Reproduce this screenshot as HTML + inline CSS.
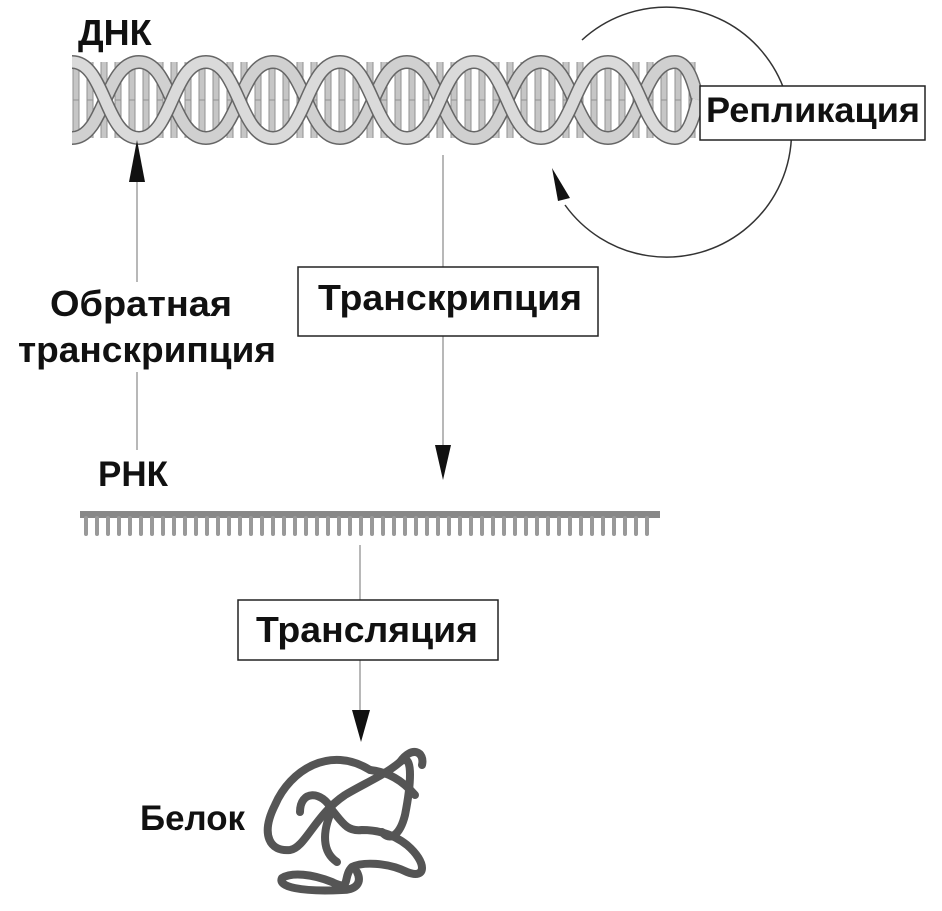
<!DOCTYPE html>
<html><head><meta charset="utf-8"><style>
body{margin:0;background:#fff;}
svg text{font-family:"Liberation Sans",sans-serif;font-weight:bold;fill:#111;}
</style></head><body>
<svg width="942" height="906" viewBox="0 0 942 906" xmlns="http://www.w3.org/2000/svg">
<defs>
<pattern id="rungs" x="0" y="0" width="14" height="100" patternUnits="userSpaceOnUse">
<rect x="3" y="0" width="6" height="100" fill="#b8b8b8" stroke="#777" stroke-width="1"/>
</pattern>
</defs>
<rect x="72" y="62" width="626" height="76" fill="url(#rungs)" opacity="0.8"/>
<g fill="none" stroke-linecap="butt">
<path d="M72,138 C105,138 105,62 139,62 C172,62 172,138 206,138 C239,138 239,62 273,62 C306,62 306,138 340,138 C373,138 373,62 407,62 C440,62 440,138 474,138 C507,138 507,62 541,62 C574,62 574,138 608,138 C641,138 641,62 675,62 C690,62 695,90 698,100" stroke="#666" stroke-width="14"/>
<path d="M72,138 C105,138 105,62 139,62 C172,62 172,138 206,138 C239,138 239,62 273,62 C306,62 306,138 340,138 C373,138 373,62 407,62 C440,62 440,138 474,138 C507,138 507,62 541,62 C574,62 574,138 608,138 C641,138 641,62 675,62 C690,62 695,90 698,100" stroke="#d0d0d0" stroke-width="11"/>
<path d="M72,62 C105,62 105,138 139,138 C172,138 172,62 206,62 C239,62 239,138 273,138 C306,138 306,62 340,62 C373,62 373,138 407,138 C440,138 440,62 474,62 C507,62 507,138 541,138 C574,138 574,62 608,62 C641,62 641,138 675,138 C690,138 695,110 698,100" stroke="#666" stroke-width="14"/>
<path d="M72,62 C105,62 105,138 139,138 C172,138 172,62 206,62 C239,62 239,138 273,138 C306,138 306,62 340,62 C373,62 373,138 407,138 C440,138 440,62 474,62 C507,62 507,138 541,138 C574,138 574,62 608,62 C641,62 641,138 675,138 C690,138 695,110 698,100" stroke="#dadada" stroke-width="11"/>
</g>
<text x="78" y="45" font-size="36">ДНК</text>
<path d="M582,40 A125,125 0 1 1 565,205" fill="none" stroke="#333" stroke-width="1.5"/>
<polygon points="552,168 570,198 558,201" fill="#111"/>
<rect x="700" y="86" width="225" height="54" fill="#fff" stroke="#222" stroke-width="1.5"/>
<text x="813" y="122" font-size="35" text-anchor="middle" textLength="214" lengthAdjust="spacingAndGlyphs">Репликация</text>
<line x1="137" y1="170" x2="137" y2="450" stroke="#888" stroke-width="1.2"/>
<polygon points="137,140 129,182 145,182" fill="#111"/>
<rect x="15" y="282" width="265" height="90" fill="#fff"/>
<text x="141" y="316" font-size="36" text-anchor="middle" textLength="182" lengthAdjust="spacingAndGlyphs">Обратная</text>
<text x="147" y="362" font-size="36" text-anchor="middle" textLength="258" lengthAdjust="spacingAndGlyphs">транскрипция</text>
<line x1="443" y1="155" x2="443" y2="450" stroke="#888" stroke-width="1.2"/>
<polygon points="443,480 435,445 451,445" fill="#111"/>
<rect x="298" y="267" width="300" height="69" fill="#fff" stroke="#222" stroke-width="1.5"/>
<text x="450" y="310" font-size="36" text-anchor="middle" textLength="264" lengthAdjust="spacingAndGlyphs">Транскрипция</text>
<text x="98" y="486" font-size="35">РНК</text>
<rect x="80" y="511" width="580" height="7" fill="#888"/>
<g stroke="#999" stroke-width="4" stroke-linecap="round">
<path d="M86,518v16 M97,518v16 M108,518v16 M119,518v16 M130,518v16 M141,518v16 M152,518v16 M163,518v16 M174,518v16 M185,518v16 M196,518v16 M207,518v16 M218,518v16 M229,518v16 M240,518v16 M251,518v16 M262,518v16 M273,518v16 M284,518v16 M295,518v16 M306,518v16 M317,518v16 M328,518v16 M339,518v16 M350,518v16 M361,518v16 M372,518v16 M383,518v16 M394,518v16 M405,518v16 M416,518v16 M427,518v16 M438,518v16 M449,518v16 M460,518v16 M471,518v16 M482,518v16 M493,518v16 M504,518v16 M515,518v16 M526,518v16 M537,518v16 M548,518v16 M559,518v16 M570,518v16 M581,518v16 M592,518v16 M603,518v16 M614,518v16 M625,518v16 M636,518v16 M647,518v16"/>
</g>
<line x1="360" y1="545" x2="360" y2="712" stroke="#888" stroke-width="1.2"/>
<polygon points="361,742 352,710 370,710" fill="#111"/>
<rect x="238" y="600" width="260" height="60" fill="#fff" stroke="#222" stroke-width="1.5"/>
<text x="367" y="642" font-size="36" text-anchor="middle" textLength="222" lengthAdjust="spacingAndGlyphs">Трансляция</text>
<text x="140" y="830" font-size="35" textLength="105" lengthAdjust="spacingAndGlyphs">Белок</text>
<g fill="none" stroke="#555" stroke-width="8" stroke-linecap="round" stroke-linejoin="round">
<path d="M370,770 C330,745 290,770 275,805 C260,835 270,852 290,850 C305,848 315,815 345,795 C365,783 385,775 400,762 C415,750 410,790 405,815 C400,835 390,842 382,832"/>
<path d="M400,762 C412,745 425,752 422,765 M370,770 C388,772 402,780 415,795"/>
<path d="M300,812 C300,790 322,790 332,810 C342,822 347,832 362,830 C382,830 397,837 407,845 C427,862 427,880 407,872 C387,862 362,862 352,867 C342,877 352,892 332,882 C312,874 292,872 282,878 C277,887 302,892 342,890 C357,890 362,882 357,872"/>
<path d="M332,810 C322,832 322,852 337,862"/>
</g>
</svg>
</body></html>
